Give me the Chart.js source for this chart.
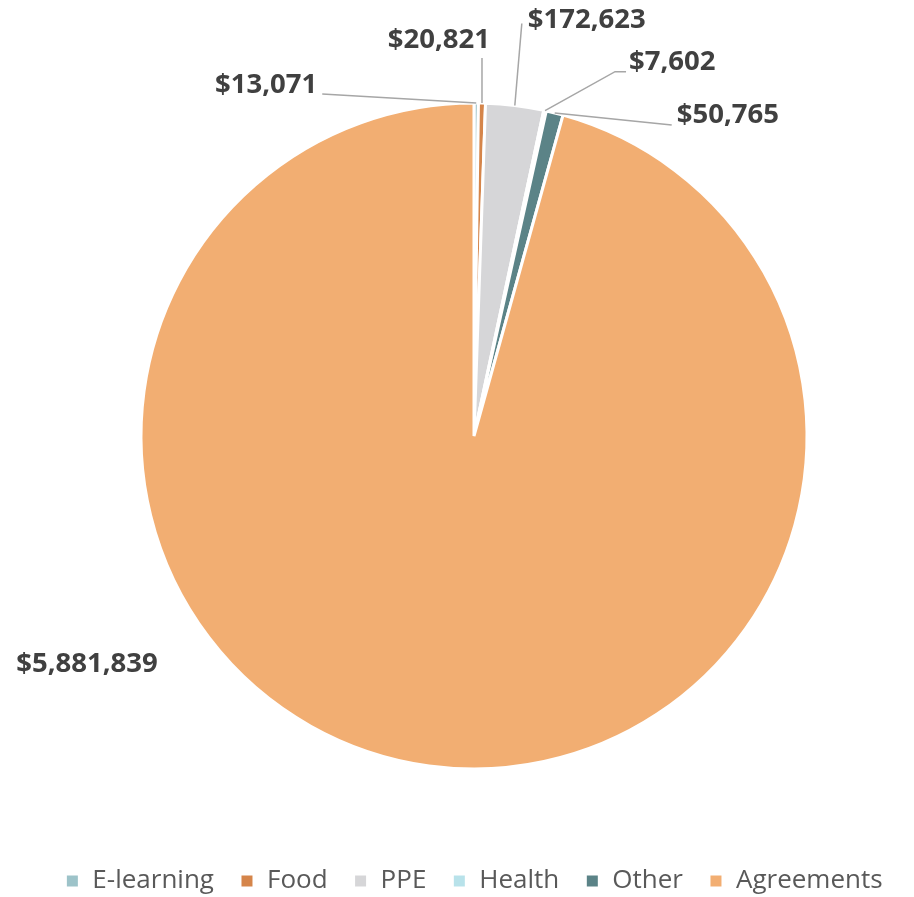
<!DOCTYPE html>
<html>
<head>
<meta charset="utf-8">
<script src="https://cdn.jsdelivr.net/npm/chart.js@4/dist/chart.umd.min.js"></script>
<style>
  html, body { margin: 0; padding: 0; background: #fff; }
  #wrap { width: 914px; height: 897px; }
</style>
</head>
<body>
<div id="wrap"><canvas id="pieChart" width="914" height="897"></canvas></div>
<script>
// Dados do gráfico
const categories = ['E-learning', 'Food', 'PPE', 'Health', 'Other', 'Agreements'];
const amounts = [13071, 20821, 172623, 7602, 50765, 5881839];
const sliceColors = ['#9DC3C9', '#D5854A', '#D6D6D8', '#B8E2EA', '#5B8387', '#F2AE72'];

// Posição dos rótulos em relação ao ponto médio da borda de cada fatia
// line: pontos da linha guia (relativos ao ponto âncora), text: posição do texto
const labelLayout = [
    { line: [[-154, -9]], text: [-159, -18], align: 'right' },
    { line: [[0, -45]], text: [8, -63], align: 'right' },
    { line: [[7, -82]], text: [13, -85], align: 'left' },
    { line: [[70, -39], [81, -39]], text: [84, -48], align: 'left' },
    { line: [[117, 12]], text: [122, 2], align: 'left' },
    { line: null, text: [-342, -102], align: 'center' }
];

function formatMoney(v) {
    return '$' + v.toLocaleString('en-US');
}

const valueLabels = {
    id: 'valueLabels',
    afterDatasetsDraw(chart) {
        const ctx = chart.ctx;
        const meta = chart.getDatasetMeta(0);
        ctx.save();
        meta.data.forEach((arc, i) => {
            const p = arc.getProps(['x', 'y', 'startAngle', 'endAngle', 'outerRadius'], true);
            const mid = (p.startAngle + p.endAngle) / 2;
            const ax = p.x + Math.cos(mid) * p.outerRadius;
            const ay = p.y + Math.sin(mid) * p.outerRadius;
            const lay = labelLayout[i];
            if (lay.line) {
                ctx.beginPath();
                ctx.moveTo(ax, ay);
                lay.line.forEach(([dx, dy]) => ctx.lineTo(ax + dx, ay + dy));
                ctx.strokeStyle = '#A6A6A6';
                ctx.lineWidth = 1.5;
                ctx.stroke();
            }
            ctx.font = 'bold 27.5px "Open Sans"';
            ctx.fillStyle = '#404040';
            ctx.textAlign = lay.align;
            ctx.textBaseline = 'middle';
            ctx.fillText(formatMoney(chart.data.datasets[0].data[i]), ax + lay.text[0], ay + lay.text[1]);
        });
        ctx.restore();
    }
};

const chart = new Chart(document.getElementById('pieChart'), {
    type: 'pie',
    data: {
        labels: categories,
        datasets: [{
            data: amounts,
            backgroundColor: sliceColors,
            borderColor: '#FFFFFF',
            borderWidth: 3
        }]
    },
    options: {
        responsive: false,
        devicePixelRatio: 1,
        animation: false,
        radius: 333,
        layout: {
            padding: { top: 30, left: 34, right: 0, bottom: -7 }
        },
        plugins: {
            legend: {
                position: 'bottom',
                labels: {
                    boxWidth: 14,
                    boxHeight: 14,
                    padding: 26,
                    color: '#595959',
                    font: { family: '"Open Sans"', size: 26 }
                }
            },
            tooltip: { enabled: false }
        }
    },
    plugins: [valueLabels]
});
</script>
</body>
</html>
